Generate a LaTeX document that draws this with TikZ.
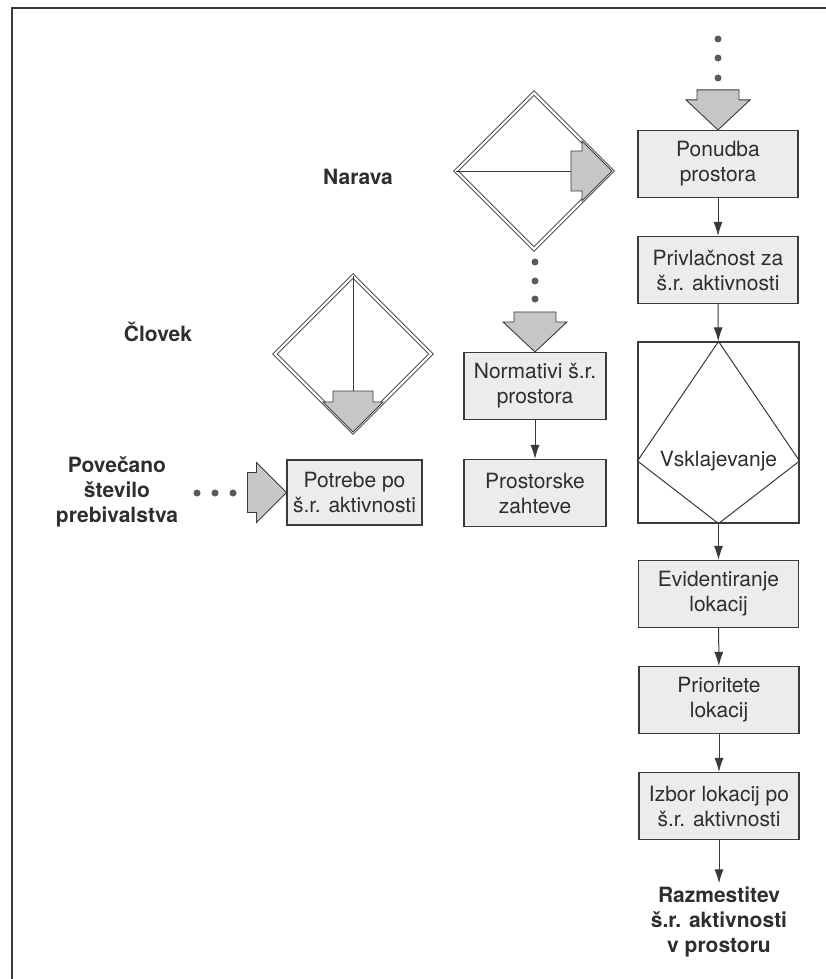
\documentclass[tikz,border=0pt]{standalone}
\usepackage{fontspec}
\setmainfont{TeX Gyre Heros}
\usetikzlibrary{arrows.meta,shapes.geometric}
\definecolor{linegray}{HTML}{3A3A3A}
\definecolor{boxgray}{HTML}{ECECEC}
\definecolor{arrowgray}{HTML}{C6C6C6}
\definecolor{dotgray}{HTML}{5A5A5A}
\definecolor{textgray}{HTML}{2E2E2E}
\tikzset{
  box/.style={draw=linegray,fill=boxgray,line width=1.1pt,minimum width=160,minimum height=67,inner sep=2pt,align=center,text=textgray,font=\fontsize{21}{25}\selectfont},
  lbl/.style={align=center,text=textgray,font=\fontsize{21}{25}\selectfont\bfseries},
  flow/.style={draw=linegray,line width=1pt,-{Latex[length=14pt,width=9pt]}},
  fatarrow/.style={draw=linegray,fill=arrowgray,line width=0.9pt},
  dbl/.style={shape=diamond,draw=linegray,double,double distance=2.4pt,line width=0.8pt,minimum width=156,minimum height=156,inner sep=0pt,outer sep=0pt}
}
\begin{document}
\begin{tikzpicture}[x=1pt,y=-1pt]
\useasboundingbox (0,0) rectangle (826,979);
\draw[linegray,line width=1.2pt] (12,979) -- (12,8) -- (826,8);
\node[lbl] (narava) at (358,177) {Narava};
\node[lbl] (clovek) at (158,332) {Človek};
\node[lbl] (povecano) at (117,492) {Povečano\\število\\prebivalstva};
\node[box] (ponudba) at (718,164) {Ponudba\\prostora};
\node[box] (privlacnost) at (718,270) {Privlačnost za\\š.r. aktivnosti};
\node[box,fill=white,minimum width=161,minimum height=181] (vskl) at (718.5,432.5) {};
\node[text=textgray,font=\fontsize{21}{25}\selectfont] (vsklt) at (718.5,461) {Vsklajevanje};
\node[box] (evid) at (718.5,594) {Evidentiranje\\lokacij};
\node[box] (prior) at (719,700) {Prioritete\\lokacij};
\node[box] (izbor) at (719,806) {Izbor lokacij po\\š.r. aktivnosti};
\node[lbl] (razm) at (719,922) {Razmestitev\\š.r. aktivnosti\\v prostoru};
\node[box,minimum width=142] (normativi) at (535,386) {Normativi š.r.\\prostora};
\node[box,minimum width=142] (prostorske) at (535,493) {Prostorske\\zahteve};
\node[box,minimum width=135,minimum height=65] (potrebe) at (354.5,492.5) {Potrebe po\\š.r. aktivnosti};
\node[dbl] (naravad) at (534,171) {};
\node[dbl] (cloveKd) at (353,354) {};
\draw[linegray,line width=1pt] (vskl.north) -- (vskl.east |- vsklt) -- (vskl.south) -- (vskl.west |- vsklt) -- cycle;
\draw[linegray,line width=0.9pt] (naravad.west) -- ([xshift=-41pt]naravad.east);
\draw[fatarrow] (naravad.east) -- ++(-30,-30) -- ++(0,10) -- ++(-11,0) -- ++(0,40) -- ++(11,0) -- ++(0,10) -- cycle;
\draw[linegray,line width=0.9pt] (cloveKd.north) -- ([yshift=41pt]cloveKd.south);
\draw[fatarrow] (cloveKd.south) -- ++(-30,-30) -- ++(10,0) -- ++(0,-11) -- ++(40,0) -- ++(0,11) -- ++(10,0) -- cycle;
\draw[fatarrow] (ponudba.north) -- ++(-32,-30) -- ++(11,0) -- ++(0,-10) -- ++(42,0) -- ++(0,10) -- ++(11,0) -- cycle;
\draw[fatarrow] (normativi.north) -- ++(-32,-30) -- ++(11,0) -- ++(0,-10) -- ++(42,0) -- ++(0,10) -- ++(11,0) -- cycle;
\draw[fatarrow] (potrebe.west) -- ++(-30,-30) -- ++(0,10) -- ++(-9,0) -- ++(0,40) -- ++(9,0) -- ++(0,10) -- cycle;
\fill[dotgray] (718,39) circle (3.5pt);
\fill[dotgray] (718,58) circle (3.5pt);
\fill[dotgray] (718,78) circle (3.5pt);
\fill[dotgray] (535,262) circle (3.5pt);
\fill[dotgray] (535,281) circle (3.5pt);
\fill[dotgray] (535,299) circle (3.5pt);
\fill[dotgray] (197,493) circle (3.5pt);
\fill[dotgray] (215,493) circle (3.5pt);
\fill[dotgray] (233,493) circle (3.5pt);
\draw[flow] (ponudba) -- (privlacnost);
\draw[flow] (privlacnost) -- (vskl);
\draw[flow] (vskl) -- (evid);
\draw[flow] (evid) -- (prior);
\draw[flow] (prior) -- (izbor);
\draw[flow] (izbor) -- (razm);
\draw[flow] (normativi) -- (prostorske);
\end{tikzpicture}
\end{document}
